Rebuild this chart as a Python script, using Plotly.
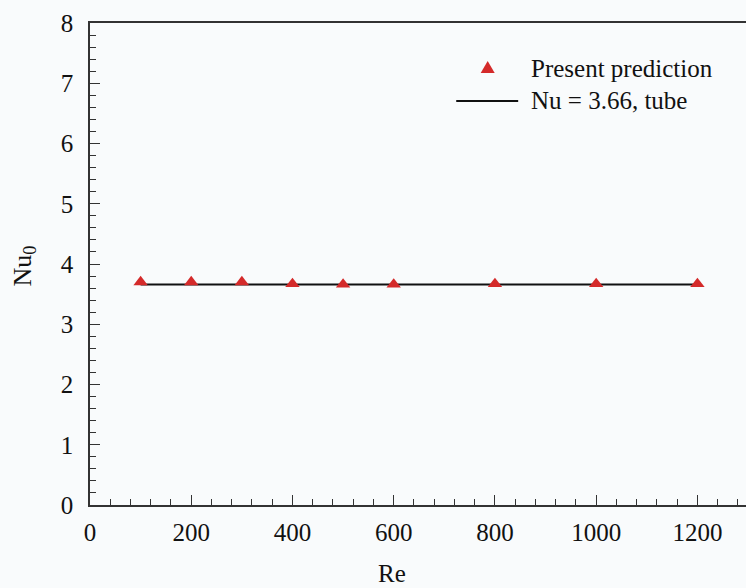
import plotly.graph_objects as go

# Data
re_vals = [100, 200, 300, 400, 500, 600, 800, 1000, 1200]
nu_pred = [3.70, 3.70, 3.70, 3.67, 3.66, 3.66, 3.67, 3.67, 3.67]
tube_x = [100, 1200]
tube_y = [3.66, 3.66]
x_ticks = [0, 200, 400, 600, 800, 1000, 1200]
y_ticks = [0, 1, 2, 3, 4, 5, 6, 7, 8]

FONT = "Liberation Serif"
RED = "#d42a2a"
AX = "#333333"
FS = 25

fig = go.Figure()
fig.add_trace(go.Scatter(x=tube_x, y=tube_y, mode="lines",
                         line=dict(color="#111111", width=2),
                         name="Nu = 3.66, tube", showlegend=False))
fig.add_trace(go.Scatter(x=re_vals, y=nu_pred, mode="markers",
                         marker=dict(symbol="triangle-up", size=12.5, color=RED,
                                     line=dict(width=0)),
                         name="Present prediction", showlegend=False))

# plot area in pixels: x 89.5..746, y 23..505
L, T, W, H = 89.5, 23, 656.5, 482
def px(x): return (x - L) / W
def py(y): return (505 - y) / H

shapes = [
    dict(type="line", xref="paper", yref="paper", x0=px(456), x1=px(518),
         y0=py(101), y1=py(101), line=dict(color="#111111", width=2)),
    dict(type="path", xref="paper", yref="paper",
         path=f"M {px(480.5)},{py(73)} L {px(494.5)},{py(73)} L {px(487.5)},{py(61)} Z",
         fillcolor=RED, line=dict(width=0)),
]
annotations = [
    dict(text="Present prediction", xref="paper", yref="paper", x=px(529), y=py(68),
         xanchor="left", yanchor="middle", showarrow=False,
         font=dict(family=FONT, size=FS, color="#111111")),
    dict(text="Nu = 3.66, tube", xref="paper", yref="paper", x=px(529), y=py(101),
         xanchor="left", yanchor="middle", showarrow=False,
         font=dict(family=FONT, size=FS, color="#111111")),
    dict(text="Nu<sub>0</sub>", xref="paper", yref="paper", x=px(23), y=py(266),
         xanchor="center", yanchor="middle", textangle=-90, showarrow=False,
         font=dict(family=FONT, size=26, color="#111111")),
    dict(text="Re", xref="x", yref="paper", x=597, y=py(589),
         xanchor="center", yanchor="bottom", showarrow=False,
         font=dict(family=FONT, size=FS, color="#111111")),
]

fig.update_layout(
    width=746, height=588,
    margin=dict(l=89.5, r=0, t=23, b=83),
    paper_bgcolor="#f9fbfc", plot_bgcolor="#f9fbfc",
    font=dict(family=FONT, size=FS, color="#111111"),
    shapes=shapes, annotations=annotations,
    showlegend=False,
)
fig.update_xaxes(range=[0, 1296], tickvals=x_ticks, ticks="inside", ticklen=10,
                 tickwidth=1.3, tickcolor=AX, showline=True, linecolor=AX, linewidth=1.6,
                 mirror=True, showgrid=False, zeroline=False, ticklabelstandoff=4,
                 minor=dict(dtick=40, tick0=0, ticks="inside", ticklen=6, tickwidth=1.2,
                            tickcolor=AX, showgrid=False),
                 tickfont=dict(family=FONT, size=FS))
fig.update_yaxes(range=[0, 8], tickvals=y_ticks, ticks="inside", ticklen=10,
                 tickwidth=1.3, tickcolor=AX, showline=True, linecolor=AX, linewidth=1.6,
                 showgrid=False, zeroline=False, ticklabelstandoff=10,
                 minor=dict(dtick=0.2, tick0=0, ticks="inside", ticklen=6, tickwidth=1.2,
                            tickcolor=AX, showgrid=False),
                 tickfont=dict(family=FONT, size=FS))

fig.write_html("out.html")
